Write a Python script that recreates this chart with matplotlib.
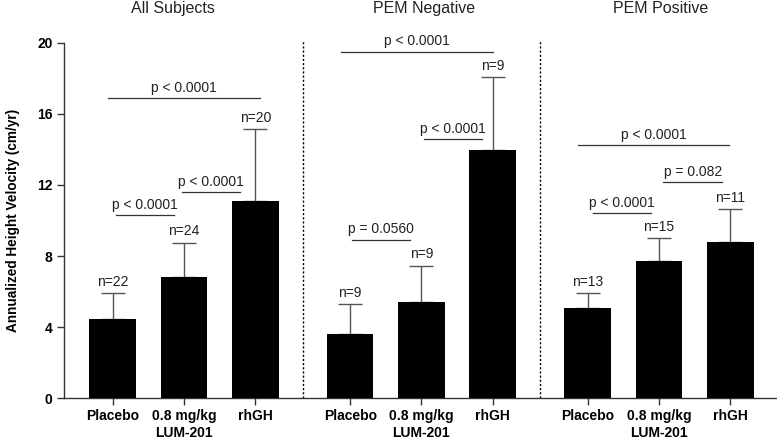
import numpy as np
import matplotlib.pyplot as plt

plt.rcParams['font.family'] = ['Liberation Sans', 'DejaVu Sans']

groups = ['All Subjects', 'PEM Negative', 'PEM Positive']
arms = ['Placebo', '0.8 mg/kg\nLUM-201', 'rhGH']
means = [4.46, 6.84, 11.11, 3.60, 5.40, 13.98, 5.08, 7.70, 8.81]
sds = [1.44, 1.91, 4.02, 1.70, 2.06, 4.07, 0.82, 1.30, 1.82]
ns = [22, 24, 20, 9, 9, 9, 13, 15, 11]

# comparisons: (x start, x end, line height, label)
comparisons = [
    (-0.06, 2.06, 16.87, 'p < 0.0001'),
    (0.04, 0.86, 10.29, 'p < 0.0001'),
    (0.97, 1.79, 11.59, 'p < 0.0001'),
    (3.20, 5.33, 19.47, 'p < 0.0001'),
    (3.36, 4.17, 8.93, 'p = 0.0560'),
    (4.37, 5.18, 14.57, 'p < 0.0001'),
    (6.53, 8.65, 14.23, 'p < 0.0001'),
    (6.73, 7.55, 10.40, 'p < 0.0001'),
    (7.72, 8.55, 12.15, 'p = 0.082'),
]

gap = 1.33
x = np.array([g * (2 + gap) + i for g in range(3) for i in range(3)])
means = np.array(means)
sds = np.array(sds)

fig = plt.figure(figsize=(7.77, 4.43), dpi=100)
ax = fig.add_axes([64.3 / 777, 44.7 / 443, 712.7 / 777, 355.6 / 443])

ax.errorbar(x, means, yerr=[np.zeros_like(sds), sds], fmt='none',
            ecolor='#555555', elinewidth=1, capsize=8.5, capthick=1, zorder=2)
ax.bar(x, means, width=0.655, color='black', zorder=3)

for xi, m, s, n in zip(x, means, sds, ns):
    ax.text(xi, m + s + 0.65, 'n=%d' % n, ha='center', va='center',
            fontsize=10, color='#222222')

for x0, x1, y, lab in comparisons:
    ax.plot([x0, x1], [y, y], color='#333333', lw=0.9)
    ax.text((x0 + x1) / 2, y + 0.6, lab, ha='center', va='center',
            fontsize=10, color='#222222')

# dotted separators between groups
for g in range(2):
    xs = (x[3 * g + 2] + x[3 * g + 3]) / 2
    ax.plot([xs, xs], [0, 20.1], color='black', lw=1, ls=(0, (1.5, 1.5)),
            clip_on=False)

title_x = [0.85, 4.37, 7.69]
for tx, t in zip(title_x, groups):
    ax.text(tx, 1.095, t, transform=ax.get_xaxis_transform(), ha='center',
            va='center', fontsize=11.5, color='#222222')

ax.set_xlim(-0.679, 9.317)
ax.set_ylim(0, 20)
ax.set_yticks([0, 4, 8, 12, 16, 20])
ax.set_xticks(x)
ax.set_xticklabels(arms * 3, fontsize=10, fontweight='bold')
for lab in ax.get_yticklabels():
    lab.set_fontweight('bold')
    lab.set_fontsize(10)
ax.tick_params(axis='both', colors='#333333', labelcolor='black',
               length=5, width=1)
ax.tick_params(axis='x', pad=3)
ax.set_ylabel('Annualized Height Velocity (cm/yr)', fontsize=9.8,
              fontweight='bold', labelpad=12)

for side in ['top', 'right']:
    ax.spines[side].set_visible(False)
for side in ['left', 'bottom']:
    ax.spines[side].set_color('#333333')
    ax.spines[side].set_linewidth(1)

fig.savefig('out.png', dpi=100)
